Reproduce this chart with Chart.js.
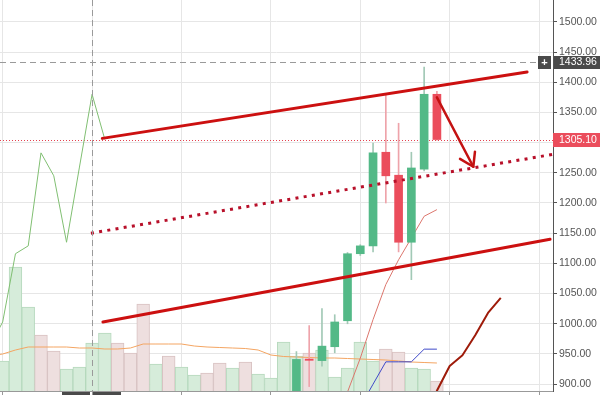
<!DOCTYPE html>
<html>
<head>
<meta charset="utf-8">
<script src="https://cdn.jsdelivr.net/npm/chart.js@4.4.1/dist/chart.umd.min.js"></script>
<style>
  html, body { margin: 0; padding: 0; background: #fff; }
  #wrap { width: 600px; height: 395px; position: relative; }
</style>
</head>
<body>
<div id="wrap"><canvas id="chart"></canvas></div>
<script>
// x = bar index (daily bars), y = price
const candleSlots = [23, 24, 25, 26, 27, 28, 29, 30, 31, 32, 33, 34];
const opens  = [870, 941.5, 939, 962, 1005, 1116, 1129, 1284, 1246, 1135, 1256, 1380];
const highs  = [954, 997, 1025, 1015, 1118, 1131, 1299, 1379, 1332, 1284, 1425, 1385];
const lows   = [860, 896, 930, 952, 1000, 1113, 1119, 1200, 1119, 1073, 1253, 1304];
const closes = [941, 939.5, 963, 1003, 1116, 1129, 1283, 1245, 1135, 1258, 1380, 1305.10];

// volume (thousands), starts at bar 0
const firstVolumeSlot = 0;
const volumes = [3.0, 12.4, 8.4, 5.6, 4.0, 2.2, 2.4, 4.8, 5.8, 4.8, 3.8, 8.7, 2.7, 3.5, 2.4, 1.6, 1.8, 2.8,
                 2.3, 2.9, 1.7, 1.3, 4.9, 3.5, 3.8, 4.1, 1.4, 2.3, 4.9, 3.0, 4.2, 3.9, 2.3, 2.2, 1.0];
const volumeUp = [1, 1, 1, 0, 0, 1, 1, 1, 1, 0, 0, 0, 1, 0, 1, 1, 0, 0,
                  1, 0, 1, 1, 1, 1, 0, 1, 1, 1, 1, 1, 0, 0, 1, 1, 0];
const firstVolumeMaSlot = -1;
const volumeMa = [3.5, 3.7, 4.1, 4.4, 4.4, 4.4, 4.4, 4.3, 4.3, 4.2, 4.2, 4.3, 4.7, 4.7, 4.7, 4.7, 4.5, 4.4,
                  4.35, 4.3, 4.25, 4.1, 3.6, 3.45, 3.4, 3.35, 3.3, 3.3, 3.25, 3.2, 3.15, 3.1, 3.0, 2.9, 2.85, 2.8];

// ichimoku lines
const laggingSlots = [-1, 0, 1, 2, 3, 4, 5, 6, 7, 8];
const lagging = [963, 1003, 1116, 1129, 1283, 1245, 1135, 1258, 1380, 1305.10];
const tenkanSlots = [26, 27, 28, 29, 30, 31, 32, 33, 34];
const tenkan = [840, 887, 943, 1007, 1065, 1106, 1142, 1178, 1189];
const kijunSlots = [28, 29, 30, 31, 32, 33, 34];
const kijun = [863, 900, 937, 937, 937, 958, 958];
const senkouSlots = [33, 34, 35, 36, 37, 38, 39];
const senkou = [845, 889, 930, 948, 981, 1018, 1043];

// hand drawn lines: [bar, price]
const channelTop = [[7.8, 1307], [41.06, 1417]];
const channelBottom = [[7.85, 1003], [42.86, 1140]];
const channelMid = [[6.91, 1150], [43.2, 1281]];
const arrowShaft = [[34.0, 1375], [36.85, 1260]];
const arrowHead = [[35.81, 1273], [36.85, 1260], [36.98, 1285]];

const yTicks = [900, 950, 1000, 1050, 1100, 1150, 1200, 1250, 1300, 1350, 1400, 1450, 1500];
const xGridSlots = [0, 7, 14, 21, 28, 35, 42];
const crosshairSlot = 7;
const crosshairPrice = 1433.96;
const lastPrice = closes[closes.length - 1];

const UP = '#53b987', DOWN = '#eb4d5c';
const FONT = 'Liberation Sans, Arial, sans-serif';

const pts = (xs, ys) => xs.map((x, i) => ({ x: x, y: ys[i] }));
const seg = arr => arr.map(p => ({ x: p[0], y: p[1] }));

const bodies = candleSlots.map((x, i) => ({ x: x, y: [opens[i], closes[i]] }));
const wicks = candleSlots.map((x, i) => ({ x: x, y: [lows[i], highs[i]] }));
const candleUp = candleSlots.map((x, i) => closes[i] >= opens[i]);
const vol = volumes.map((v, i) => ({ x: firstVolumeSlot + i, y: v }));
const volMa = volumeMa.map((v, i) => ({ x: firstVolumeMaSlot + i, y: v }));

function lineSet(data, color, width, extra) {
    return Object.assign({
        type: 'line', data: data, borderColor: color, borderWidth: width,
        pointRadius: 0, tension: 0, fill: false, yAxisID: 'y'
    }, extra || {});
}

const overlays = {
    id: 'overlays',
    beforeDatasetsDraw(chart) {
        const { ctx, chartArea: a, scales: { y } } = chart;
        const py = Math.round(y.getPixelForValue(lastPrice)) + 0.5;
        ctx.save();
        ctx.strokeStyle = '#e5414f';
        ctx.lineWidth = 1;
        ctx.setLineDash([1, 2]);
        ctx.beginPath();
        ctx.moveTo(a.left, py);
        ctx.lineTo(a.right, py);
        ctx.stroke();
        ctx.restore();
    },
    afterDatasetsDraw(chart) {
        const { ctx, chartArea: a, scales: { x, y } } = chart;
        const cx = Math.round(x.getPixelForValue(crosshairSlot)) + 0.5;
        const cy = Math.round(y.getPixelForValue(crosshairPrice)) + 0.5;
        ctx.save();
        ctx.strokeStyle = '#9a9a9a';
        ctx.lineWidth = 1;
        ctx.setLineDash([6, 4]);
        ctx.beginPath();
        ctx.moveTo(cx, a.top);
        ctx.lineTo(cx, a.bottom);
        ctx.moveTo(a.left, cy);
        ctx.lineTo(a.right - 15, cy);
        ctx.stroke();
        ctx.restore();
    },
    afterDraw(chart) {
        const { ctx, chartArea: a, scales: { x, y } } = chart;
        const cx = Math.round(x.getPixelForValue(crosshairSlot));
        const cy = Math.round(y.getPixelForValue(crosshairPrice));
        const py = Math.round(y.getPixelForValue(lastPrice));
        ctx.save();
        ctx.font = '10.5px ' + FONT;
        ctx.textBaseline = 'middle';
        // last price label
        ctx.fillStyle = DOWN;
        ctx.fillRect(a.right, py - 7, 600 - a.right, 14);
        ctx.fillStyle = '#fff';
        ctx.fillText(lastPrice.toFixed(2), a.right + 6, py + 0.5);
        // crosshair price label
        ctx.fillStyle = '#4a4a4a';
        ctx.fillRect(a.right + 1, cy - 6, 600 - a.right, 13);
        ctx.fillRect(a.right - 15, cy - 6, 13, 13);
        ctx.fillStyle = '#fff';
        ctx.fillText(crosshairPrice.toFixed(2), a.right + 6, cy + 0.5);
        ctx.font = 'bold 11px ' + FONT;
        ctx.textAlign = 'center';
        ctx.fillText('+', a.right - 8.5, cy + 0.5);
        // crosshair time label (cut off at the bottom)
        ctx.fillStyle = '#4a4a4a';
        ctx.fillRect(cx - 30, a.bottom + 1, 28, 6);
        ctx.fillRect(cx + 1, a.bottom + 1, 28, 6);
        ctx.restore();
    }
};

new Chart(document.getElementById('chart'), {
    type: 'line',
    data: {
        datasets: [
            {
                type: 'bar', data: vol, yAxisID: 'yv', grouped: false, order: 10,
                barPercentage: 1, categoryPercentage: 1, borderWidth: 1,
                backgroundColor: volumeUp.map(u => u ? '#d6ecda' : '#eedfdf'),
                borderColor: volumeUp.map(u => u ? '#b6d9bd' : '#d8c2c2')
            },
            lineSet(volMa, '#f4a562', 1, { yAxisID: 'yv', order: 9 }),
            lineSet(pts(laggingSlots, lagging), '#80bf72', 1, { order: 6 }),
            lineSet(pts(tenkanSlots, tenkan), '#dc766d', 1, { order: 6 }),
            lineSet(pts(kijunSlots, kijun), '#3f49c9', 1, { order: 6 }),
            lineSet(pts(senkouSlots, senkou), '#9e1b0a', 2, { order: 6, borderJoinStyle: 'round' }),
            {
                type: 'bar', data: wicks, yAxisID: 'y', grouped: false, order: 4,
                barThickness: 1, borderWidth: 0,
                backgroundColor: candleUp.map(u => u ? '#a2c9b6' : '#eea3aa')
            },
            {
                type: 'bar', data: bodies, yAxisID: 'y', grouped: false, order: 3,
                barThickness: 8, borderWidth: 0,
                backgroundColor: candleUp.map(u => u ? UP : DOWN)
            },
            lineSet(seg(channelTop), '#cc1010', 3, { order: 1, borderCapStyle: 'round' }),
            lineSet(seg(channelBottom), '#cc1010', 3, { order: 1, borderCapStyle: 'round' }),
            lineSet(seg(channelMid), '#b8102a', 3, { order: 1, borderDash: [3, 5.3] }),
            lineSet(seg(arrowShaft), '#c41212', 2.5, { order: 1, borderCapStyle: 'round' }),
            lineSet(seg(arrowHead), '#c41212', 2.5, { order: 1, borderCapStyle: 'round', borderJoinStyle: 'round' })
        ]
    },
    options: {
        responsive: true,
        maintainAspectRatio: false,
        animation: false,
        layout: { padding: 0 },
        plugins: { legend: { display: false }, tooltip: { enabled: false } },
        scales: {
            x: {
                type: 'linear', min: -0.21, max: 43.09, offset: false,
                afterBuildTicks: s => { s.ticks = xGridSlots.map(v => ({ value: v })); },
                ticks: { display: false },
                grid: { offset: false, color: '#e6e6e6', tickLength: 4, tickColor: '#999' },
                border: { color: '#999' },
                afterFit: s => { s.height = 4; s.paddingLeft = 0; s.paddingRight = 0; }
            },
            y: {
                position: 'right', min: 888.7, max: 1536.1,
                afterBuildTicks: s => { s.ticks = yTicks.map(v => ({ value: v })); },
                ticks: {
                    callback: v => Number(v).toFixed(2),
                    color: '#555', padding: 2,
                    font: { family: FONT, size: 10.5 }
                },
                grid: { color: '#e6e6e6', tickLength: 4, tickColor: '#555' },
                border: { color: '#555' },
                afterFit: s => { s.width = 47; s.paddingTop = 0; s.paddingBottom = 0; }
            },
            yv: { display: false, min: 0, max: 39.1 }
        }
    },
    plugins: [overlays]
});
</script>
</body>
</html>
